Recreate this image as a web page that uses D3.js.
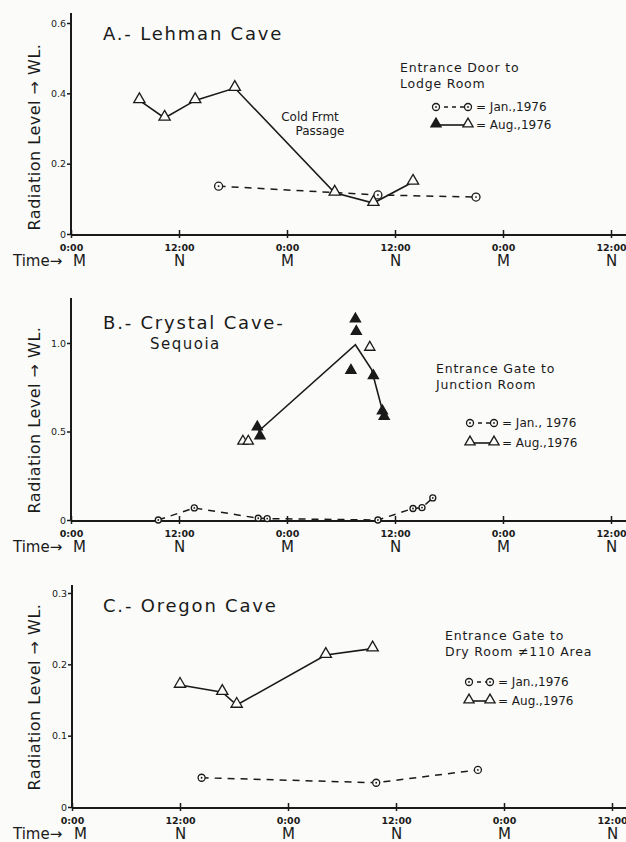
<!DOCTYPE html>
<html>
<head>
<meta charset="utf-8">
<script src="https://cdn.jsdelivr.net/npm/d3@7"></script>
<style>
body{margin:0;background:#fbfbf9;}
svg{display:block;font-family:"DejaVu Sans",sans-serif;}
</style>
</head>
<body>
<div id="chart"></div>
<script>
// time axis, hours from the first midnight
var timeTicks = [0, 12, 24, 36, 48, 60];
var tickTimes = ["0:00", "12:00", "0:00", "12:00", "0:00", "12:00"];
var tickDay = ["M", "N", "M", "N", "M", "N"];

// A.- Lehman Cave
var lehmanAugT = [7.6, 10.4, 13.8, 18.2, 29.3, 33.6, 38.0];
var lehmanAugV = [0.38, 0.33, 0.38, 0.415, 0.117, 0.088, 0.148];
var lehmanJanT = [16.4, 34.1, 45.0];
var lehmanJanV = [0.136, 0.111, 0.105];
var lehmanTicks = [0, 0.2, 0.4, 0.6];

// B.- Crystal Cave - Sequoia
var crystalLineT = [20.8, 31.6, 33.4, 34.7];
var crystalLineV = [0.50, 0.99, 0.85, 0.60];
var crystalAugT = [19.1, 19.7, 20.7, 21.0, 31.6, 31.7, 33.2, 31.1, 33.6, 34.6, 34.8];
var crystalAugV = [0.44, 0.44, 0.52, 0.47, 1.13, 1.06, 0.97, 0.84, 0.81, 0.61, 0.58];
var crystalAugFilled = [0, 0, 1, 1, 1, 1, 0, 1, 1, 1, 1];
var crystalJanT = [9.7, 13.7, 20.8, 21.8, 34.1, 38.0, 39.0, 40.2];
var crystalJanV = [0.0, 0.068, 0.01, 0.008, 0.0, 0.065, 0.07, 0.125];
var crystalTicks = [0, 0.5, 1.0];

// C.- Oregon Cave
var oregonAugT = [12.0, 16.7, 18.3, 28.2, 33.4];
var oregonAugV = [0.171, 0.161, 0.143, 0.213, 0.222];
var oregonJanT = [14.4, 33.8, 45.1];
var oregonJanV = [0.041, 0.034, 0.052];
var oregonTicks = [0, 0.1, 0.2, 0.3];

function zip(t, v) { return t.map(function(d, i){ return [d, v[i]]; }); }
function fmt(d) { return d === 0 ? "0" : d.toFixed(1); }

var panels = [
  { title: ["A.- Lehman Cave"], titleY: 40, ticks: lehmanTicks, ymax: 0.6,
    xr: [71, 611], yr: [234, 23], axisTop: 13, labelY: 137,
    aug: zip(lehmanAugT, lehmanAugV), augLine: zip(lehmanAugT, lehmanAugV), augFilled: null,
    jan: zip(lehmanJanT, lehmanJanV), janR: 4,
    legend: { x: 400, y: 72, lines: ["Entrance Door to", "Lodge Room"], mx: 436, mx2: 468, jy: 107, ay: 125,
      jan: "= Jan.,1976", aug: "= Aug.,1976", firstFilled: true } },
  { title: ["B.- Crystal Cave-", "Sequoia"], titleY: 329, ticks: crystalTicks, ymax: 1.0,
    xr: [71, 611], yr: [520, 343], axisTop: 298, labelY: 420,
    aug: zip(crystalAugT, crystalAugV), augLine: zip(crystalLineT, crystalLineV), augFilled: crystalAugFilled,
    jan: zip(crystalJanT, crystalJanV), janR: 3,
    legend: { x: 436, y: 373, lines: ["Entrance Gate to", "Junction Room"], mx: 470, mx2: 494, jy: 423, ay: 443,
      jan: "= Jan., 1976", aug: "= Aug.,1976", firstFilled: false } },
  { title: ["C.- Oregon Cave"], titleY: 612, ticks: oregonTicks, ymax: 0.3,
    xr: [72, 612], yr: [807, 593], axisTop: 585, labelY: 697,
    aug: zip(oregonAugT, oregonAugV), augLine: zip(oregonAugT, oregonAugV), augFilled: null,
    jan: zip(oregonJanT, oregonJanV), janR: 3.5,
    legend: { x: 445, y: 640, lines: ["Entrance Gate to", "Dry Room \u2260110 Area"], mx: 469, mx2: 490, jy: 682, ay: 701,
      jan: "= Jan.,1976", aug: "= Aug.,1976", firstFilled: false } }
];

var W = 626, H = 842;
var svg = d3.select("#chart").append("svg").attr("width", W).attr("height", H);
svg.append("rect").attr("width", W).attr("height", H).attr("fill", "#fbfbf9");

var tri = d3.symbol().type(d3.symbolTriangle).size(55);
var triSmall = d3.symbol().type(d3.symbolTriangle).size(45);
var ink = "#1a1a1a";

function janMark(g, x, y, r) {
  g.append("circle").attr("cx", x).attr("cy", y).attr("r", r)
    .attr("fill", "#fbfbf9").attr("stroke", ink).attr("stroke-width", 1.3);
  g.append("circle").attr("cx", x).attr("cy", y).attr("r", 0.9).attr("fill", ink);
}
function augMark(g, x, y, filled, sym) {
  g.append("path").attr("d", (sym || tri)()).attr("transform", "translate(" + x + "," + (y - 1) + ")")
    .attr("fill", filled ? ink : "#fbfbf9").attr("stroke", ink).attr("stroke-width", 1.3);
}

panels.forEach(function(p) {
  var g = svg.append("g");
  var x = d3.scaleLinear().domain([0, 60]).range(p.xr);
  var y = d3.scaleLinear().domain([0, p.ymax]).range(p.yr);
  var base = p.yr[0];

  // axes lines
  g.append("line").attr("x1", p.xr[0]).attr("x2", W).attr("y1", base + 1).attr("y2", base + 1)
    .attr("stroke", ink).attr("stroke-width", 2);
  g.append("line").attr("x1", p.xr[0]).attr("x2", p.xr[0]).attr("y1", base + 1).attr("y2", p.axisTop)
    .attr("stroke", ink).attr("stroke-width", 2);

  // y ticks
  var ya = g.append("g").attr("transform", "translate(" + p.xr[0] + ",0)")
    .call(d3.axisLeft(y).tickValues(p.ticks).tickSize(4).tickFormat(fmt));
  ya.select(".domain").remove();
  ya.selectAll("line").attr("stroke", ink).attr("stroke-width", 1.5);
  ya.selectAll("text").attr("font-size", 9.5).attr("fill", ink).attr("font-family", "DejaVu Sans").attr("x", -5);

  // x ticks
  var xa = g.append("g").attr("transform", "translate(0," + (base + 1) + ")")
    .call(d3.axisBottom(x).tickValues(timeTicks).tickSize(3).tickFormat(function(d, i){ return tickTimes[i]; }));
  xa.select(".domain").remove();
  xa.selectAll("line").attr("y1", -5).attr("y2", 3).attr("stroke", ink).attr("stroke-width", 1.5);
  xa.selectAll("text").attr("font-size", 9.5).attr("font-weight", "bold").attr("fill", ink)
    .attr("font-family", "DejaVu Sans").attr("y", 9);
  xa.selectAll(".tick").append("text")
    .attr("y", 31).attr("x", function(d, i){ return i === 0 ? 8 : 0; })
    .attr("text-anchor", "middle").attr("font-size", 15).attr("fill", ink)
    .attr("font-family", "DejaVu Sans")
    .text(function(d, i){ return tickDay[i]; });
  g.append("text").attr("x", 13).attr("y", base + 32).attr("font-size", 15).attr("fill", ink)
    .text("Time\u2192");

  // y label
  g.append("text").attr("transform", "translate(40," + p.labelY + ") rotate(-90)")
    .attr("text-anchor", "middle").attr("font-size", 16).attr("fill", ink).attr("letter-spacing", 0.5)
    .text("Radiation Level \u2192 WL.");

  // title
  p.title.forEach(function(t, i) {
    g.append("text").attr("x", i === 0 ? 103 : 150).attr("y", p.titleY + i * 20)
      .attr("font-size", i === 0 ? 18 : 15).attr("letter-spacing", i === 0 ? 1.8 : 1.5).attr("fill", ink).text(t);
  });

  // data lines
  var line = d3.line().x(function(d){ return x(d[0]); }).y(function(d){ return y(d[1]); });
  g.append("path").datum(p.jan).attr("d", line).attr("fill", "none").attr("stroke", ink)
    .attr("stroke-width", 1.5).attr("stroke-dasharray", "7,6");
  g.append("path").datum(p.augLine).attr("d", line).attr("fill", "none").attr("stroke", ink)
    .attr("stroke-width", 1.6);

  p.jan.forEach(function(d) { janMark(g, x(d[0]), y(d[1]), p.janR); });
  p.aug.forEach(function(d, i) {
    augMark(g, x(d[0]), y(d[1]), p.augFilled ? p.augFilled[i] : 0, p.augFilled ? triSmall : tri);
  });

  // legend
  var L = p.legend;
  L.lines.forEach(function(t, i) {
    g.append("text").attr("x", L.x).attr("y", L.y + i * 16).attr("font-size", 12.5)
      .attr("letter-spacing", 0.8).attr("fill", ink).text(t);
  });
  g.append("line").attr("x1", L.mx).attr("x2", L.mx2).attr("y1", L.jy).attr("y2", L.jy)
    .attr("stroke", ink).attr("stroke-width", 1.5).attr("stroke-dasharray", "4,4");
  janMark(g, L.mx, L.jy, 3.5);
  janMark(g, L.mx2, L.jy, 3.5);
  g.append("line").attr("x1", L.mx).attr("x2", L.mx2).attr("y1", L.ay).attr("y2", L.ay)
    .attr("stroke", ink).attr("stroke-width", 1.6);
  augMark(g, L.mx, L.ay, L.firstFilled, triSmall);
  augMark(g, L.mx2, L.ay, false, triSmall);
  g.append("text").attr("x", L.mx2 + 8).attr("y", L.jy + 4).attr("font-size", 12).attr("fill", ink).text(L.jan);
  g.append("text").attr("x", L.mx2 + 8).attr("y", L.ay + 4).attr("font-size", 12).attr("fill", ink).text(L.aug);
});

// annotation in panel A
svg.append("text").attr("x", 310).attr("y", 121).attr("text-anchor", "middle").attr("font-size", 12)
  .attr("fill", ink).text("Cold Frmt");
svg.append("text").attr("x", 320).attr("y", 135).attr("text-anchor", "middle").attr("font-size", 12)
  .attr("fill", ink).text("Passage");
</script>
</body>
</html>
